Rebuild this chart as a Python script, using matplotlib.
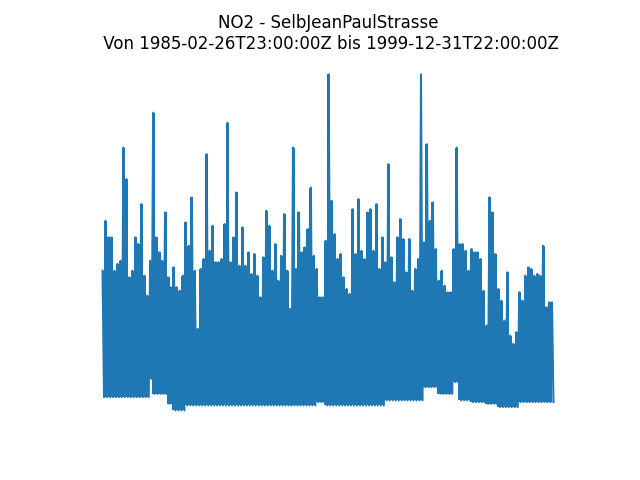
#!/usr/bin/env python3
"""NO2 time series, Selb Jean-Paul-Strasse, hourly values 1985-1999."""

import matplotlib

matplotlib.use("Agg")
import matplotlib.pyplot as plt
import numpy as np
import pandas as pd

STATION = "SelbJeanPaulStrasse"
COMPONENT = "NO2"
START = "1985-02-26T23:00:00Z"
END = "1999-12-31T22:00:00Z"

# per-period maxima / minima (ug/m3)
period_max = [
    84, 114, 104, 104, 84, 88, 90, 158, 139, 80, 84, 104, 100, 124, 81, 69, 90, 179, 104,
    95, 90, 119, 80, 74, 86, 74, 72, 81, 113, 99, 128, 84, 49, 85, 91, 154, 96, 111,
    89, 89, 91, 112, 173, 89, 104, 131, 87, 110, 87, 95, 82, 94, 81, 68, 92, 120, 111,
    84, 100, 78, 93, 118, 84, 61, 158, 85, 119, 95, 98, 109, 134, 93, 85, 68, 68, 102, 202,
    126, 106, 91, 94, 80, 73, 70, 121, 94, 127, 96, 91, 119, 121, 96, 124, 85, 104, 89,
    148, 92, 77, 104, 115, 103, 83, 103, 72, 85, 91, 202, 101, 160, 114, 125, 97, 78,
    84, 75, 71, 71, 97, 158, 100, 100, 96, 84, 97, 95, 95, 91, 72, 51, 128, 119, 94,
    73, 66, 54, 83, 45, 40, 47, 71, 66, 81, 86, 85, 81, 82, 81, 99, 62, 65, 65,
]
period_min = [
    8, 8, 8, 8, 8, 8, 8, 8, 8, 8, 8, 8, 8, 8, 8, 8, 19, 10, 10, 10, 10, 10, 4, 4, 0, 0, 0, 0,
    3, 3, 3, 3, 3, 3, 3, 3, 3, 3,
    3, 3, 3, 3, 3, 3, 3, 3, 3, 3, 3, 3, 3, 3, 3, 3, 3, 3, 3, 3, 3, 3, 3, 3, 3, 3, 3, 3, 3, 3,
    3, 3, 3, 3, 5, 5, 5, 3, 3,
    3, 3, 3, 3, 3, 3, 3, 3, 3, 3, 3, 3, 3, 3, 3, 3, 3, 3, 6, 6, 6, 6, 6, 6, 6, 6, 6, 6, 6, 6,
    6, 14, 14, 14, 14, 14, 10,
    10, 10, 10, 10, 17, 17, 6, 6, 6, 6, 5, 5, 5, 5, 5, 4, 4, 4, 4, 2, 2, 2, 2, 2, 2, 2,
    5, 5, 5, 5, 5, 5, 5, 5, 5, 5, 5, 5,
]


def main() -> int:
    values = np.empty(2 * len(period_max))
    values[0::2] = period_max
    values[1::2] = period_min
    times = pd.date_range(START, END, periods=len(values))

    fig, ax = plt.subplots(figsize=(6.4, 4.8))
    # dense hourly series: solid band between the period minima and maxima
    ax.fill_between(times[0::2], period_min, period_max, step="mid", color="C0", lw=0)
    ax.plot(times, values, color="C0")
    ax.set_title(f"{COMPONENT} - {STATION}\n Von {START} bis {END}")
    ax.axis("off")
    fig.savefig("out.png", dpi=100)
    plt.close(fig)
    return 0


if __name__ == "__main__":
    raise SystemExit(main())
